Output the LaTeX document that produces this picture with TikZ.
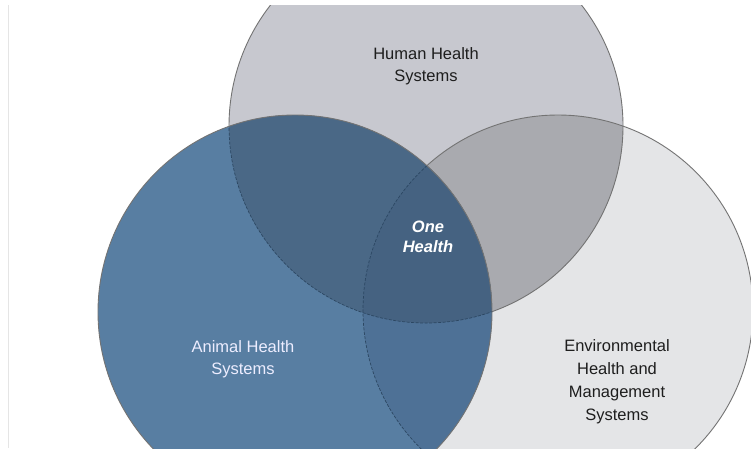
\documentclass[tikz,border=0pt]{standalone}
\usepackage{fontspec}
\setmainfont{Liberation Sans}
\definecolor{humanc}{HTML}{C7C8CF}
\definecolor{envc}{HTML}{E4E5E7}
\definecolor{animalc}{HTML}{587EA2}
\definecolor{hec}{HTML}{A9AAAF}
\definecolor{ahc}{HTML}{4A6886}
\definecolor{aec}{HTML}{4E7196}
\definecolor{allc}{HTML}{456281}
\definecolor{edgec}{HTML}{737373}
\definecolor{innerc}{HTML}{2C4762}
\definecolor{textc}{HTML}{1E1E1E}
\begin{document}
\begin{tikzpicture}[x=1pt,y=-1pt,
  edge/.style={draw=edgec,line width=0.9pt},
  innerline/.style={draw=innerc,line width=0.7pt,dash pattern=on 3pt off 1.5pt},
  lbl/.style={font=\fontsize{16.5}{21.5}\selectfont,align=center,text=textc,inner sep=0pt},
  wlbl/.style={lbl,text=white}]
\useasboundingbox (0,0) rectangle (751,448);
\fill[white] (0,0) rectangle (751,448);
\draw[black!10,line width=1pt] (8,5) -- (8,448);
\begin{scope}
\clip (0,5) rectangle (751,448);
\coordinate (ch) at (426,126);
\coordinate (ce) at (558,310);
\coordinate (ca) at (295,312);
\fill[humanc] (ch) circle [radius=197pt];
\fill[envc] (ce) circle [radius=195pt];
\begin{scope}
\clip (ch) circle [radius=197pt];
\fill[hec] (ce) circle [radius=195pt];
\end{scope}
\draw[edge] (ch) circle [radius=197pt];
\draw[edge] (ce) circle [radius=195pt];
\fill[animalc] (ca) circle [radius=197pt];
\begin{scope}
\clip (ca) circle [radius=197pt];
\fill[ahc] (ch) circle [radius=197pt];
\fill[aec] (ce) circle [radius=195pt];
\begin{scope}
\clip (ch) circle [radius=197pt];
\fill[allc] (ce) circle [radius=195pt];
\end{scope}
\draw[innerline] (ch) circle [radius=197pt];
\draw[innerline] (ce) circle [radius=195pt];
\end{scope}
\draw[edge] (ca) circle [radius=197pt];
\end{scope}
\node[lbl] (human) at (426,66) {Human Health\\Systems};
\node[lbl,font=\fontsize{16.5}{23}\selectfont] (env) at (617,382) {Environmental\\Health and\\Management\\Systems};
\node[wlbl,text=white!93!blue] (animal) at (243,359) {Animal Health\\Systems};
\node[wlbl,font=\fontsize{16.5}{20.5}\selectfont\bfseries\itshape] (one) at (428,237) {One\\Health};
\end{tikzpicture}
\end{document}
